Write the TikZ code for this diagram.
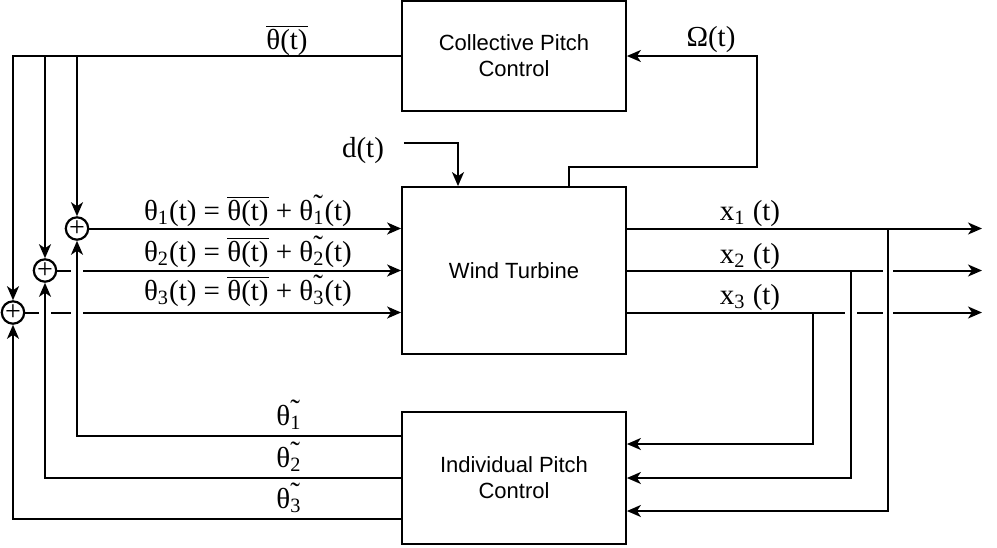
\documentclass[tikz,border=0pt]{standalone}
\usepackage{fontspec}
\setmainfont{Liberation Serif}
\newfontfamily\boxfont{Liberation Sans}
\usetikzlibrary{arrows.meta,calc}
\newcommand\thbar{$\overline{\hbox{θ(t)}}$}
\newcommand\thtil[1]{θ\makebox[0pt][l]{\raisebox{0.2em}{˜}}\textsubscript{#1}}
\begin{document}
\begin{tikzpicture}[x=0.5pt,y=-0.5pt,
  line width=1pt,
  arr/.style={-{Stealth[length=7pt,width=6pt,inset=2pt]}},
  blk/.style={draw, line width=0.9pt, minimum width=112pt, align=center,
    font=\boxfont\fontsize{11}{13}\selectfont},
  sumj/.style={draw, circle, line width=1.1pt, minimum size=11pt, inner sep=0pt,
    font=\fontsize{14}{14}\selectfont},
  lbl/.style={font=\fontsize{14.5}{16}\selectfont, inner sep=0pt, anchor=base},
  hop/.style={draw=white, line width=3pt}]
\useasboundingbox (0,0) rectangle (997,547);

% blocks
\node[blk, minimum height=55pt] (cpc) at (514,56) {Collective Pitch\\Control};
\node[blk, minimum height=83.5pt] (wt) at (514,270.5) {Wind Turbine};
\node[blk, minimum height=66pt] (ipc) at (514,478) {Individual Pitch\\Control};

% summing junctions
\node[sumj] (s1) at (77,228.5) {\raisebox{-0.05em}{+}};
\node[sumj] (s2) at (45,270.5) {\raisebox{-0.05em}{+}};
\node[sumj] (s3) at (13,312.5) {\raisebox{-0.05em}{+}};

% branch points / free ends
\coordinate (b1) at (77,56);
\coordinate (b2) at (45,56);
\coordinate (j1) at (888,228.5);
\coordinate (j2) at (851,270.5);
\coordinate (j3) at (813,312.5);
\coordinate (y1) at (982,228.5);
\coordinate (y2) at (982,270.5);
\coordinate (y3) at (982,312.5);

% labels
\node[lbl] (lth) at (287,49) {\thbar};
\node[lbl] (lom) at (711,46) {Ω(t)};
\node[lbl] (ld) at (363,157) {d(t)};
\node[lbl] (le1) at (248,220) {θ\textsubscript{1}(t) = \thbar{} + \thtil{1}(t)};
\node[lbl] (le2) at (248,261) {θ\textsubscript{2}(t) = \thbar{} + \thtil{2}(t)};
\node[lbl] (le3) at (248,300) {θ\textsubscript{3}(t) = \thbar{} + \thtil{3}(t)};
\node[lbl] (lx1) at (750,220) {x\textsubscript{1} (t)};
\node[lbl] (lx2) at (750,263) {x\textsubscript{2} (t)};
\node[lbl] (lx3) at (750,304) {x\textsubscript{3} (t)};
\node[lbl] (lt1) at (289,425) {\thtil{1}};
\node[lbl] (lt2) at (289,467) {\thtil{2}};
\node[lbl] (lt3) at (289,508) {\thtil{3}};

% collective pitch to junctions
\draw[arr] (cpc.west) -| (s3.north);
\draw[arr] (b2) -- (s2.north);
\draw[arr] (b1) -- (s1.north);

% junctions to wind turbine
\draw[arr] (s1.east) -- (s1.east -| wt.west);
\draw[arr] (s2.east) -- (s2.east -| wt.west);
\draw[arr] (s3.east) -- (s3.east -| wt.west);
\draw[hop] ($(s2 -| s1)+(-6,0)$) -- ($(s2 -| s1)+(6,0)$);
\draw[hop] ($(s3 -| s1)+(-6,0)$) -- ($(s3 -| s1)+(6,0)$);
\draw[hop] ($(s3 -| s2)+(-6,0)$) -- ($(s3 -| s2)+(6,0)$);

% individual pitch feedback
\draw[arr] ($(ipc.west)+(0,-42)$) -| (s1.south);
\draw[arr] (ipc.west) -| (s2.south);
\draw[arr] ($(ipc.west)+(0,41)$) -| (s3.south);

% disturbance
\draw[arr] ($(ld.east)+(19,-7)$) -| ($(wt.north)+(-56,0)$);

% rotor speed feedback
\draw[arr] ($(wt.north)+(55,0)$) -- ++(0,-19) -| ($(cpc.east)+(130,0)$) -- (cpc.east);

% outputs
\draw[arr] ($(wt.east)+(0,-42)$) -- (y1);
\draw[arr] (wt.east) -- (y2);
\draw[arr] ($(wt.east)+(0,42)$) -- (y3);
\draw[hop] ($(j2 -| j1)+(-5,0)$) -- ($(j2 -| j1)+(5,0)$);
\draw[hop] ($(j3 -| j2)+(-6,0)$) -- ($(j3 -| j2)+(6,0)$);
\draw[hop] ($(j3 -| j1)+(-5,0)$) -- ($(j3 -| j1)+(5,0)$);

% output feedback to individual pitch control
\draw[arr] (j1) |- ($(ipc.east)+(0,33)$);
\draw[arr] (j2) |- (ipc.east);
\draw[arr] (j3) |- ($(ipc.east)+(0,-34)$);
\end{tikzpicture}
\end{document}
